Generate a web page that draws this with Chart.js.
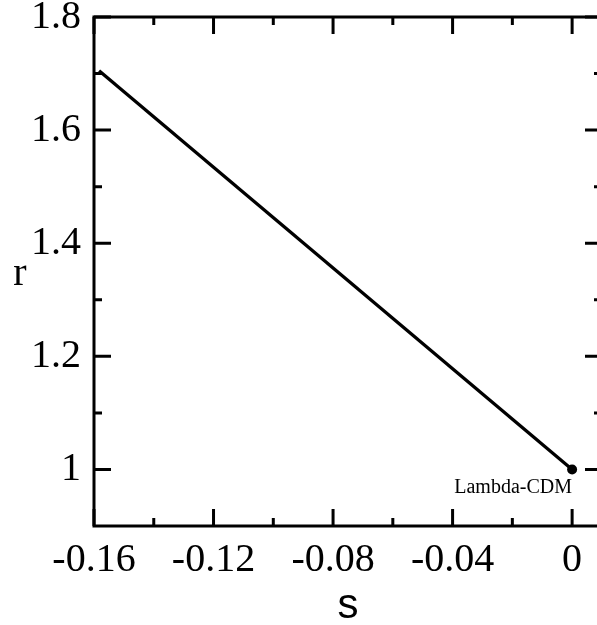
<!DOCTYPE html>
<html>
<head>
<meta charset="utf-8">
<script src="https://cdn.jsdelivr.net/npm/chart.js@4.4.0/dist/chart.umd.min.js"></script>
<style>
  html, body { margin: 0; padding: 0; overflow: hidden; background: #fff; }
  #wrap { width: 610px; height: 625px; }
</style>
</head>
<body>
<div id="wrap"><canvas id="chart" width="610" height="625"></canvas></div>
<script>
// values
const sValues = [-0.1583, 0];
const rValues = [1.705, 1.0];
const xTicks = [-0.16, -0.12, -0.08, -0.04, 0];
const xMinor = [-0.14, -0.10, -0.06, -0.02];
const yTicks = [1, 1.2, 1.4, 1.6, 1.8];
const yMinor = [1.1, 1.3, 1.5, 1.7];
const xTitle = "s";
const yTitle = "r";
const pointLabel = "Lambda-CDM";

const serif = "'Liberation Serif', 'Times New Roman', serif";
const sans = "'Liberation Sans', Arial, sans-serif";

// frame + inward ticks on all four sides, axis titles, point label
const framePlugin = {
  id: "frame",
  afterDraw(chart) {
    const ctx = chart.ctx;
    const a = chart.chartArea;
    const xs = chart.scales.x;
    const ys = chart.scales.y;
    ctx.save();
    ctx.strokeStyle = "#000";
    ctx.lineWidth = 3;
    ctx.strokeRect(a.left, a.top, a.right - a.left, a.bottom - a.top);

    function xTick(v, len) {
      const px = xs.getPixelForValue(v);
      ctx.beginPath();
      ctx.moveTo(px, a.bottom); ctx.lineTo(px, a.bottom - len);
      ctx.moveTo(px, a.top); ctx.lineTo(px, a.top + len);
      ctx.stroke();
    }
    function yTick(v, len) {
      const py = ys.getPixelForValue(v);
      ctx.beginPath();
      ctx.moveTo(a.left, py); ctx.lineTo(a.left + len, py);
      ctx.moveTo(a.right, py); ctx.lineTo(a.right - len, py);
      ctx.stroke();
    }
    xTicks.forEach(v => xTick(v, 17));
    xMinor.forEach(v => xTick(v, 8));
    yTicks.forEach(v => yTick(v, 17));
    yMinor.forEach(v => yTick(v, 8));

    ctx.fillStyle = "#000";
    ctx.textAlign = "center";
    ctx.textBaseline = "alphabetic";
    ctx.font = "42px " + sans;
    ctx.fillText(xTitle, (a.left + a.right) / 2, 618);
    ctx.font = "40px " + serif;
    ctx.fillText(yTitle, 20, 285);

    const last = sValues.length - 1;
    const px = xs.getPixelForValue(sValues[last]);
    const py = ys.getPixelForValue(rValues[last]);
    ctx.font = "20px " + serif;
    ctx.fillText(pointLabel, px - 59, py + 24);
    ctx.restore();
  }
};

new Chart(document.getElementById("chart"), {
  type: "line",
  data: {
    datasets: [{
      data: sValues.map((s, i) => ({ x: s, y: rValues[i] })),
      borderColor: "#000",
      backgroundColor: "#000",
      borderWidth: 3.3,
      pointRadius: sValues.map((s, i) => i === sValues.length - 1 ? 5 : 0),
      pointBorderWidth: 0,
      tension: 0,
      fill: false
    }]
  },
  options: {
    responsive: false,
    animation: false,
    layout: { padding: { top: 17, right: 8, left: 0, bottom: 0 } },
    plugins: { legend: { display: false }, tooltip: { enabled: false } },
    scales: {
      x: {
        type: "linear",
        min: -0.16,
        max: 0.01,
        grid: { display: false },
        border: { display: false },
        afterBuildTicks: axis => { axis.ticks = xTicks.map(v => ({ value: v })); },
        afterFit: axis => { axis.height = 99; axis.paddingLeft = 0; axis.paddingRight = 0; },
        ticks: {
          autoSkip: false,
          maxRotation: 0,
          padding: 2,
          color: "#000",
          font: { family: serif, size: 40 },
          callback: v => String(v)
        }
      },
      y: {
        type: "linear",
        min: 0.9,
        max: 1.8,
        grid: { display: false },
        border: { display: false },
        afterBuildTicks: axis => { axis.ticks = yTicks.map(v => ({ value: v })); },
        afterFit: axis => { axis.width = 94; axis.paddingTop = 0; axis.paddingBottom = 0; },
        ticks: {
          autoSkip: false,
          padding: 5,
          color: "#000",
          font: { family: serif, size: 40 },
          callback: v => String(v)
        }
      }
    }
  },
  plugins: [framePlugin]
});
</script>
</body>
</html>
